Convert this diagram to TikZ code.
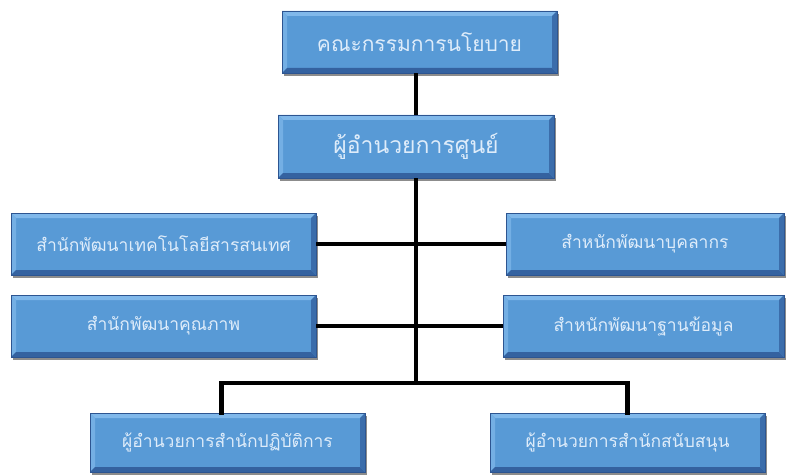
\documentclass[tikz,border=0pt]{standalone}
\usepackage{fontspec}
\newfontfamily\thaifont[Script=Thai]{Loma}
\usetikzlibrary{shadows}
\definecolor{boxblue}{RGB}{88,154,214}
\definecolor{boxedge}{RGB}{45,85,145}
\definecolor{bevlight}{RGB}{128,184,234}
\definecolor{bevdark}{RGB}{52,98,160}
\definecolor{boxtext}{RGB}{222,236,250}
\tikzset{
  orgbox/.style={rectangle, fill=boxblue, draw=boxedge, line width=0.8pt,
    text=boxtext, inner sep=0pt,
    drop shadow={shadow xshift=2pt, shadow yshift=-3pt, fill=black, opacity=0.45},
    path picture={
      \fill[bevlight] (path picture bounding box.north west) -- (path picture bounding box.north east)
        -- ([shift={(-5pt,-5pt)}]path picture bounding box.north east) -- ([shift={(5pt,-5pt)}]path picture bounding box.north west) -- cycle;
      \fill[bevlight!70!boxblue] (path picture bounding box.north west) -- (path picture bounding box.south west)
        -- ([shift={(5pt,5pt)}]path picture bounding box.south west) -- ([shift={(5pt,-5pt)}]path picture bounding box.north west) -- cycle;
      \fill[bevdark] (path picture bounding box.south west) -- (path picture bounding box.south east)
        -- ([shift={(-5pt,5pt)}]path picture bounding box.south east) -- ([shift={(5pt,5pt)}]path picture bounding box.south west) -- cycle;
      \fill[bevdark!80!boxblue] (path picture bounding box.north east) -- (path picture bounding box.south east)
        -- ([shift={(-5pt,5pt)}]path picture bounding box.south east) -- ([shift={(-5pt,-5pt)}]path picture bounding box.north east) -- cycle;
    }},
  bigbox/.style={orgbox, font=\thaifont\fontsize{21}{24}\selectfont},
  bigboxb/.style={orgbox, font=\thaifont\fontsize{23}{26}\selectfont},
  smallbox/.style={orgbox, font=\thaifont\fontsize{17.5}{20}\selectfont},
  link/.style={draw=black, line width=4.5pt}
}
\begin{document}
\begin{tikzpicture}[x=1pt,y=-1pt]
\useasboundingbox (0,0) rectangle (789,476);
\fill[white] (0,0) rectangle (789,476);
\node[bigbox, minimum width=275pt, minimum height=62pt] (b1) at (419.5,42) {คณะกรรมการนโยบาย};
\node[bigboxb, minimum width=276pt, minimum height=63pt] (b2) at (416,146.5) {ผู้อำนวยการศูนย์};
\node[smallbox, minimum width=305pt, minimum height=62pt] (b3) at (163.5,244) {สำนักพัฒนาเทคโนโลยีสารสนเทศ};
\node[smallbox, minimum width=278pt, minimum height=62pt] (b4) at (645,244) {สำหนักพัฒนาบุคลากร};
\node[smallbox, minimum width=305pt, minimum height=62pt] (b5) at (163.5,326) {สำนักพัฒนาคุณภาพ};
\node[smallbox, minimum width=281pt, minimum height=62pt] (b6) at (643.5,326) {สำหนักพัฒนาฐานข้อมูล};
\node[smallbox, minimum width=275pt, minimum height=59pt] (b7) at (227.5,442.5) {ผู้อำนวยการสำนักปฏิบัติการ};
\node[smallbox, minimum width=275pt, minimum height=59pt] (b8) at (627.5,442.5) {ผู้อำนวยการสำนักสนับสนุน};
\coordinate (bus) at (416,383);
\draw[link] (b2.north |- b1.south) -- (b2.north);
\draw[link] (b2.south) -- (bus);
\draw[link] (b3.east) -- (b4.west);
\draw[link] (b5.east) -- (b6.west);
\draw[link, line cap=rect] ([xshift=-6pt]b7.north) |- (bus) -| (b8.north);
\end{tikzpicture}
\end{document}
